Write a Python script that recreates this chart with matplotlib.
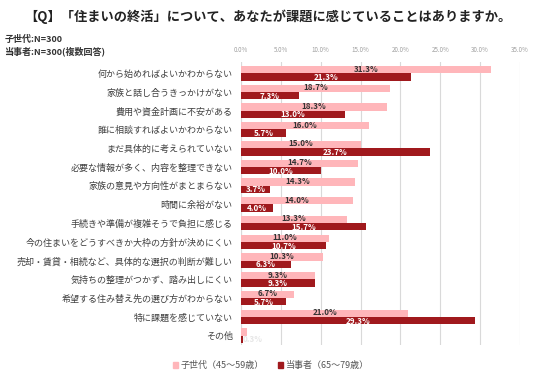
import matplotlib
matplotlib.use("Agg")
import matplotlib.pyplot as plt
from matplotlib.patches import Patch
import numpy as np

plt.rcParams['font.family'] = ['Noto Sans CJK JP', 'DejaVu Sans']

categories = [
    "何から始めればよいかわからない",
    "家族と話し合うきっかけがない",
    "費用や資金計画に不安がある",
    "誰に相談すればよいかわからない",
    "まだ具体的に考えられていない",
    "必要な情報が多く、内容を整理できない",
    "家族の意見や方向性がまとまらない",
    "時間に余裕がない",
    "手続きや準備が複雑そうで負担に感じる",
    "今の住まいをどうすべきか大枠の方針が決めにくい",
    "売却・賃貸・相続など、具体的な選択の判断が難しい",
    "気持ちの整理がつかず、踏み出しにくい",
    "希望する住み替え先の選び方がわからない",
    "特に課題を感じていない",
    "その他",
]
kosedai = [31.3, 18.7, 18.3, 16.0, 15.0, 14.7, 14.3, 14.0, 13.3, 11.0, 10.3, 9.3, 6.7, 21.0, 0.7]
tojisha = [21.3, 7.3, 13.0, 5.7, 23.7, 10.0, 3.7, 4.0, 15.7, 10.7, 6.3, 9.3, 5.7, 29.3, 0.3]
ticks = [0, 5, 10, 15, 20, 25, 30, 35]

pink = "#FFB6BA"
dark = "#A0191D"

fig = plt.figure(figsize=(5.36, 3.77), dpi=100)
ax = fig.add_axes([241/536, 1-345/377, 279/536, 283/377])

y = np.arange(len(categories))
h = 0.39
ax.barh(y - h/2, kosedai, height=h, color=pink, zorder=2)
ax.barh(y + h/2, tojisha, height=h, color=dark, zorder=2)

for i in range(len(categories)):
    if i == len(categories) - 1:
        ax.text(tojisha[i] + 1.2, y[i] + h/2, f"{tojisha[i]:.1f}%", ha='center', va='center',
                fontsize=5.8, color="#e6e6e6", fontweight='bold', zorder=3)
        continue
    ax.text(kosedai[i]/2, y[i] - h/2 - 0.03, f"{kosedai[i]:.1f}%", ha='center', va='center',
            fontsize=5.8, color="#333333", fontweight='bold', zorder=3)
    ax.text(tojisha[i]/2, y[i] + h/2 + 0.03, f"{tojisha[i]:.1f}%", ha='center', va='center',
            fontsize=5.8, color="white", fontweight='bold', zorder=3)

ax.set_xlim(0, 35)
ax.set_ylim(14.5, -0.6)
ax.set_xticks(ticks)
ax.set_xticklabels([f"{t:.1f}%" for t in ticks])
ax.xaxis.tick_top()
ax.tick_params(axis='x', length=0, labelsize=4.5, colors="#a0a0a0", pad=6)
ax.set_yticks(y)
ax.set_yticklabels(categories)
ax.tick_params(axis='y', length=0, labelsize=6.5, colors="#404040", pad=6)
ax.grid(axis='x', color="#d9d9d9", linewidth=0.8, zorder=0)
for s in ax.spines.values():
    s.set_visible(False)
ax.axvline(0, color="#d9d9d9", linewidth=0.8, zorder=1)

fig.text(0.5, 0.955, "【Q】「住まいの終活」について、あなたが課題に感じていることはありますか。",
         ha='center', va='center', fontsize=9.5, fontweight='bold', color="#222222")
fig.text(0.008, 0.895, "子世代:N=300", ha='left', va='center', fontsize=6.5,
         fontweight='bold', color="#333333")
fig.text(0.008, 0.865, "当事者:N=300(複数回答)", ha='left', va='center', fontsize=6.5,
         fontweight='bold', color="#333333")

handles = [Patch(color=pink, label="子世代（45～59歳）"), Patch(color=dark, label="当事者（65～79歳）")]
fig.legend(handles=handles, loc='center', bbox_to_anchor=(0.505, 0.03), ncol=2, frameon=False,
           fontsize=6.5, handlelength=0.6, handleheight=0.6, handletextpad=0.3, columnspacing=1.5,
           labelcolor="#555555")

fig.savefig("out.png", dpi=100)
